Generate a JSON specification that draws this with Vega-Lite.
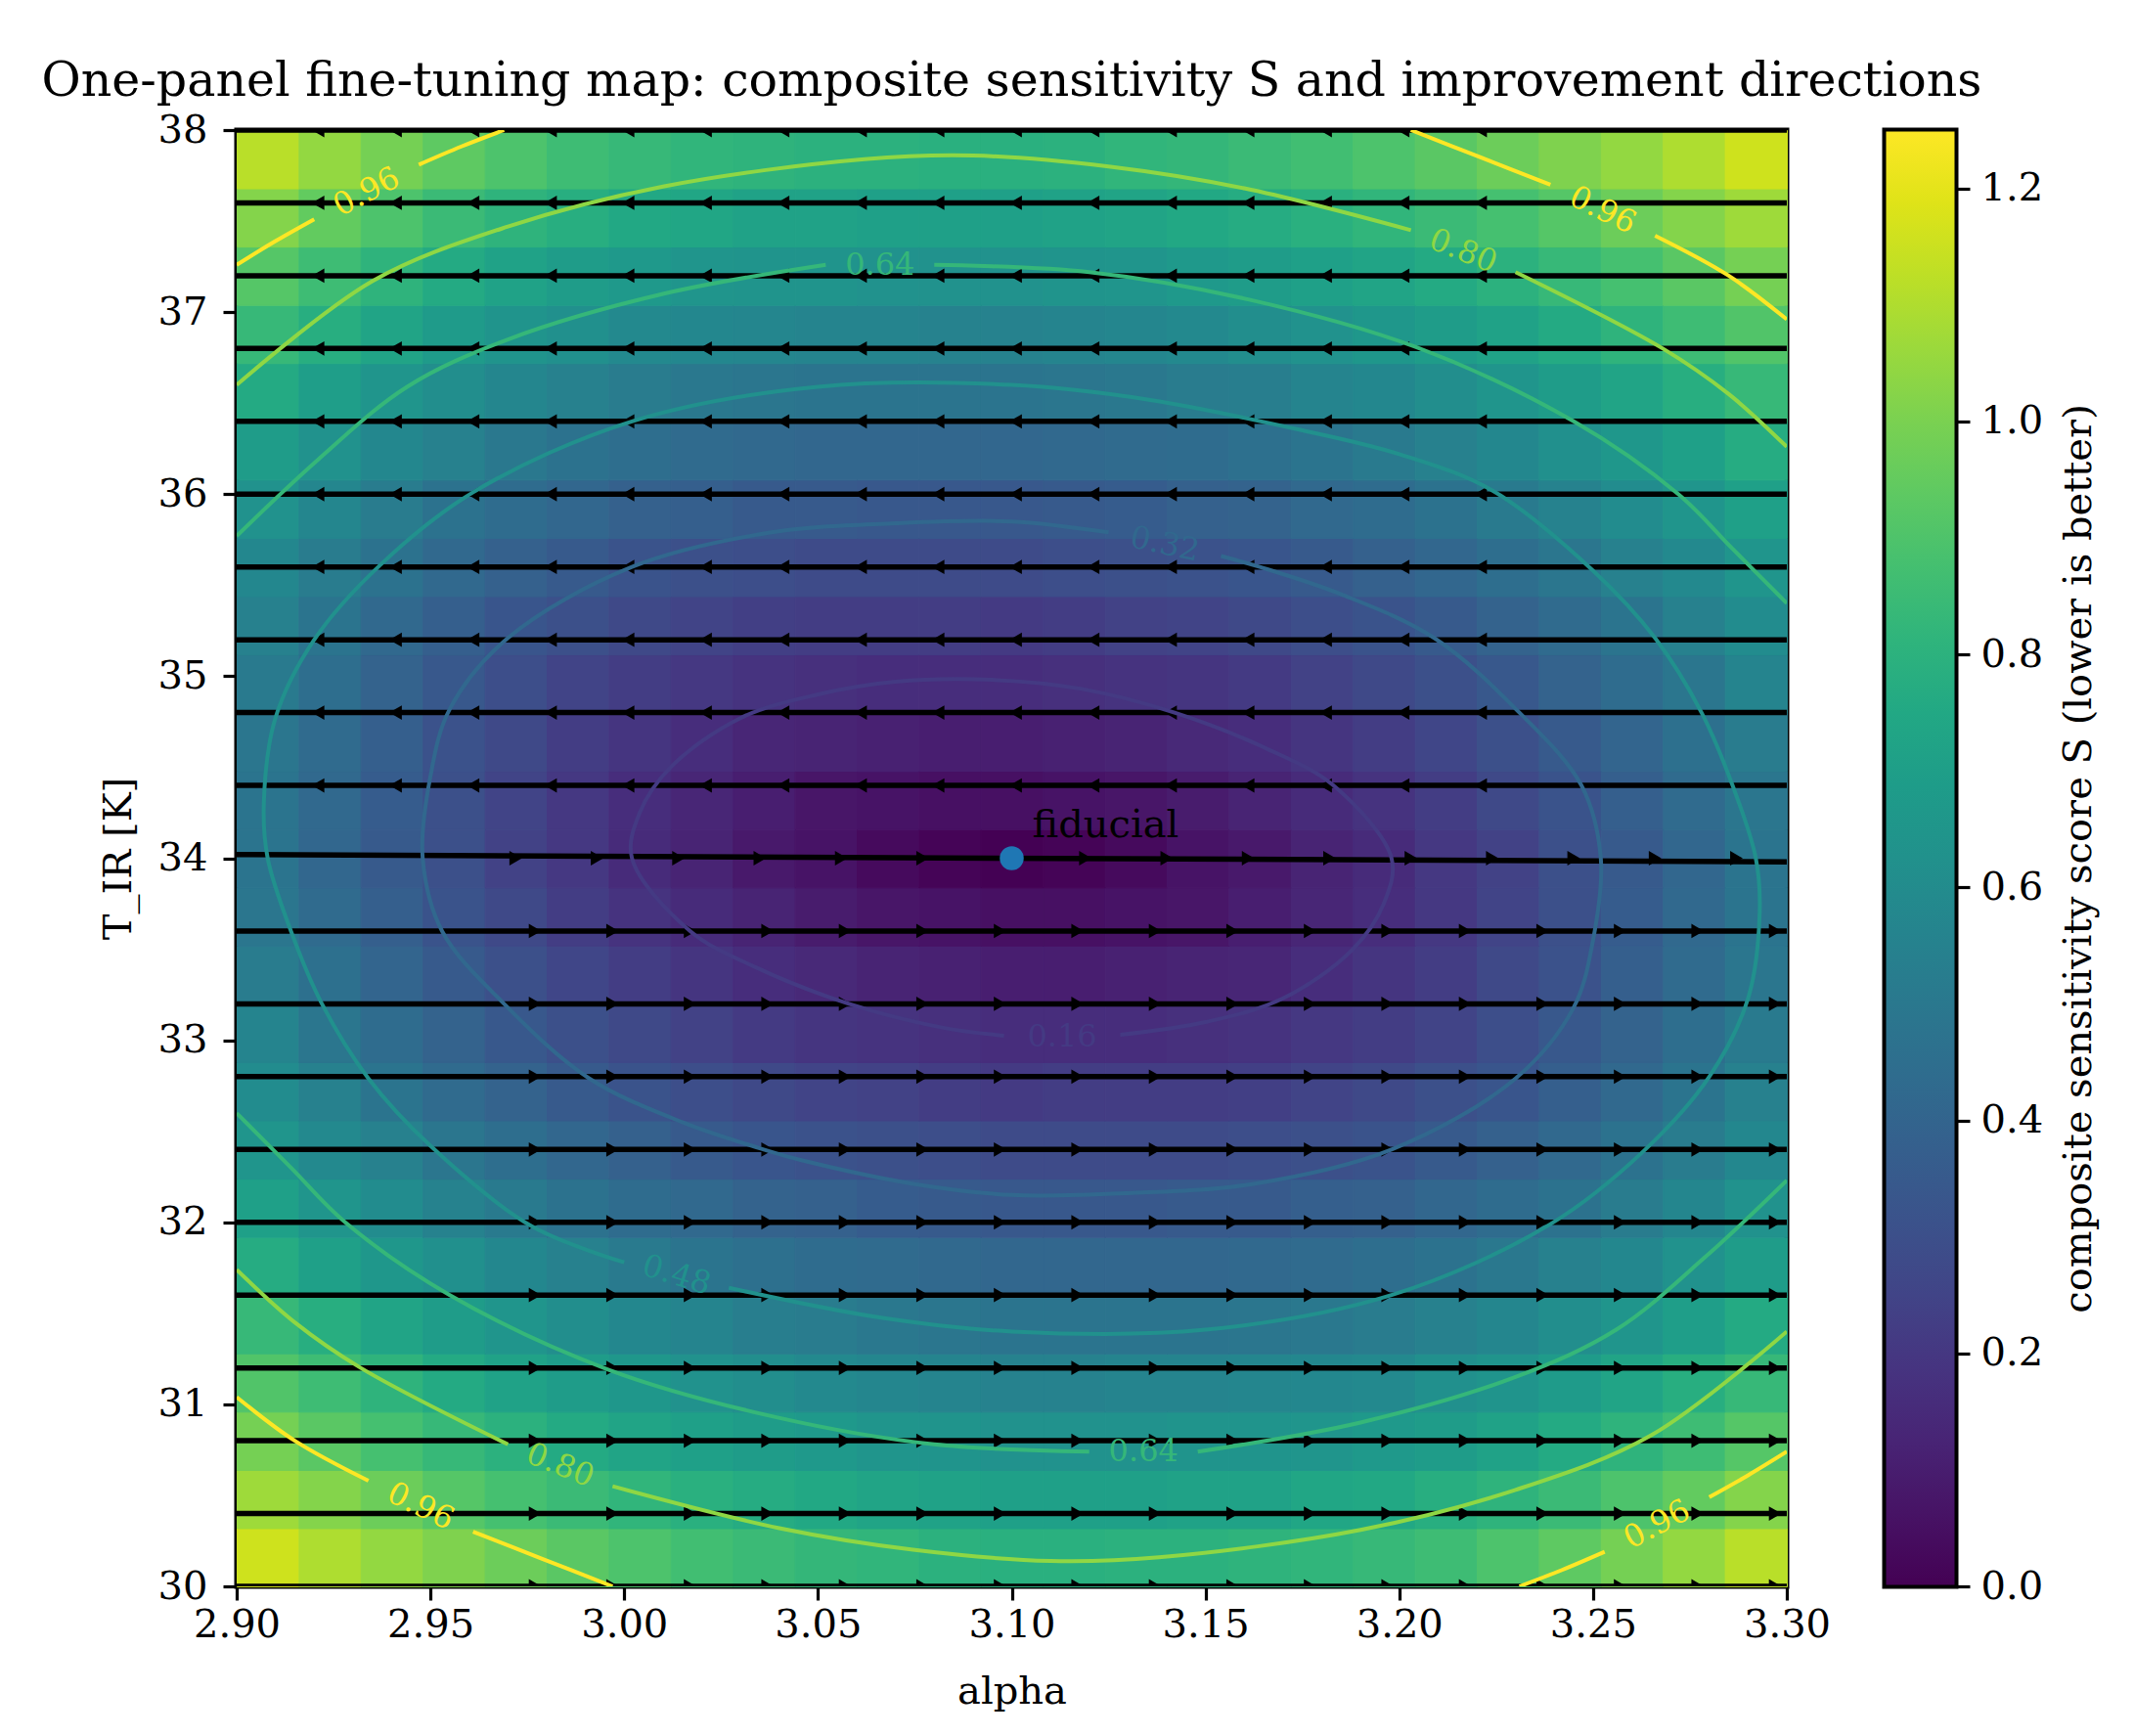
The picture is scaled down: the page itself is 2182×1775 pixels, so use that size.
{
"$schema":"https://vega.github.io/schema/vega-lite/v6.json",
"background":"white",
"padding":{"left":40,"top":56,"right":5,"bottom":5},
"spacing":100,
"bounds":"flush",
"datasets":{
"arrows":[
{"a":2.921,"t":34.4},{"a":2.941,"t":34.4},{"a":2.961,"t":34.4},{"a":2.981,"t":34.4},{"a":3.001,"t":34.4},{"a":3.021,"t":34.4},{"a":3.041,"t":34.4},{"a":3.061,"t":34.4},{"a":3.081,"t":34.4},{"a":3.101,"t":34.4},{"a":3.121,"t":34.4},{"a":3.141,"t":34.4},{"a":3.161,"t":34.4},{"a":3.181,"t":34.4},{"a":3.201,"t":34.4},{"a":3.221,"t":34.4},
{"a":2.921,"t":34.8},{"a":2.941,"t":34.8},{"a":2.961,"t":34.8},{"a":2.981,"t":34.8},{"a":3.001,"t":34.8},{"a":3.021,"t":34.8},{"a":3.041,"t":34.8},{"a":3.061,"t":34.8},{"a":3.081,"t":34.8},{"a":3.101,"t":34.8},{"a":3.121,"t":34.8},{"a":3.141,"t":34.8},{"a":3.161,"t":34.8},{"a":3.181,"t":34.8},{"a":3.201,"t":34.8},{"a":3.221,"t":34.8},
{"a":2.921,"t":35.2},{"a":2.941,"t":35.2},{"a":2.961,"t":35.2},{"a":2.981,"t":35.2},{"a":3.001,"t":35.2},{"a":3.021,"t":35.2},{"a":3.041,"t":35.2},{"a":3.061,"t":35.2},{"a":3.081,"t":35.2},{"a":3.101,"t":35.2},{"a":3.121,"t":35.2},{"a":3.141,"t":35.2},{"a":3.161,"t":35.2},{"a":3.181,"t":35.2},{"a":3.201,"t":35.2},{"a":3.221,"t":35.2},
{"a":2.921,"t":35.6},{"a":2.941,"t":35.6},{"a":2.961,"t":35.6},{"a":2.981,"t":35.6},{"a":3.001,"t":35.6},{"a":3.021,"t":35.6},{"a":3.041,"t":35.6},{"a":3.061,"t":35.6},{"a":3.081,"t":35.6},{"a":3.101,"t":35.6},{"a":3.121,"t":35.6},{"a":3.141,"t":35.6},{"a":3.161,"t":35.6},{"a":3.181,"t":35.6},{"a":3.201,"t":35.6},{"a":3.221,"t":35.6},
{"a":2.921,"t":36},{"a":2.941,"t":36},{"a":2.961,"t":36},{"a":2.981,"t":36},{"a":3.001,"t":36},{"a":3.021,"t":36},{"a":3.041,"t":36},{"a":3.061,"t":36},{"a":3.081,"t":36},{"a":3.101,"t":36},{"a":3.121,"t":36},{"a":3.141,"t":36},{"a":3.161,"t":36},{"a":3.181,"t":36},{"a":3.201,"t":36},{"a":3.221,"t":36},
{"a":2.921,"t":36.4},{"a":2.941,"t":36.4},{"a":2.961,"t":36.4},{"a":2.981,"t":36.4},{"a":3.001,"t":36.4},{"a":3.021,"t":36.4},{"a":3.041,"t":36.4},{"a":3.061,"t":36.4},{"a":3.081,"t":36.4},{"a":3.101,"t":36.4},{"a":3.121,"t":36.4},{"a":3.141,"t":36.4},{"a":3.161,"t":36.4},{"a":3.181,"t":36.4},{"a":3.201,"t":36.4},{"a":3.221,"t":36.4},
{"a":2.921,"t":36.8},{"a":2.941,"t":36.8},{"a":2.961,"t":36.8},{"a":2.981,"t":36.8},{"a":3.001,"t":36.8},{"a":3.021,"t":36.8},{"a":3.041,"t":36.8},{"a":3.061,"t":36.8},{"a":3.081,"t":36.8},{"a":3.101,"t":36.8},{"a":3.121,"t":36.8},{"a":3.141,"t":36.8},{"a":3.161,"t":36.8},{"a":3.181,"t":36.8},{"a":3.201,"t":36.8},{"a":3.221,"t":36.8},
{"a":2.921,"t":37.2},{"a":2.941,"t":37.2},{"a":2.961,"t":37.2},{"a":2.981,"t":37.2},{"a":3.001,"t":37.2},{"a":3.021,"t":37.2},{"a":3.041,"t":37.2},{"a":3.061,"t":37.2},{"a":3.081,"t":37.2},{"a":3.101,"t":37.2},{"a":3.121,"t":37.2},{"a":3.141,"t":37.2},{"a":3.161,"t":37.2},{"a":3.181,"t":37.2},{"a":3.201,"t":37.2},{"a":3.221,"t":37.2},
{"a":2.921,"t":37.6},{"a":2.941,"t":37.6},{"a":2.961,"t":37.6},{"a":2.981,"t":37.6},{"a":3.001,"t":37.6},{"a":3.021,"t":37.6},{"a":3.041,"t":37.6},{"a":3.061,"t":37.6},{"a":3.081,"t":37.6},{"a":3.101,"t":37.6},{"a":3.121,"t":37.6},{"a":3.141,"t":37.6},{"a":3.161,"t":37.6},{"a":3.181,"t":37.6},{"a":3.201,"t":37.6},{"a":3.221,"t":37.6},
{"a":2.921,"t":38},{"a":2.941,"t":38},{"a":2.961,"t":38},{"a":2.981,"t":38},{"a":3.001,"t":38},{"a":3.021,"t":38},{"a":3.041,"t":38},{"a":3.061,"t":38},{"a":3.081,"t":38},{"a":3.101,"t":38},{"a":3.121,"t":38},{"a":3.141,"t":38},{"a":3.161,"t":38},{"a":3.181,"t":38},{"a":3.201,"t":38},{"a":3.221,"t":38},
{"a":2.972,"t":34},{"a":2.993,"t":34},{"a":3.014,"t":34},{"a":3.035,"t":34},{"a":3.056,"t":34},{"a":3.077,"t":34},{"a":3.119,"t":34},{"a":3.14,"t":34},{"a":3.161,"t":34},{"a":3.182,"t":34},{"a":3.203,"t":34},{"a":3.224,"t":34},{"a":3.245,"t":34},{"a":3.266,"t":34},{"a":3.287,"t":34},
{"a":2.977,"t":30},{"a":2.997,"t":30},{"a":3.017,"t":30},{"a":3.037,"t":30},{"a":3.057,"t":30},{"a":3.077,"t":30},{"a":3.097,"t":30},{"a":3.117,"t":30},{"a":3.137,"t":30},{"a":3.157,"t":30},{"a":3.177,"t":30},{"a":3.197,"t":30},{"a":3.217,"t":30},{"a":3.237,"t":30},{"a":3.257,"t":30},{"a":3.277,"t":30},{"a":3.297,"t":30},
{"a":2.977,"t":30.4},{"a":2.997,"t":30.4},{"a":3.017,"t":30.4},{"a":3.037,"t":30.4},{"a":3.057,"t":30.4},{"a":3.077,"t":30.4},{"a":3.097,"t":30.4},{"a":3.117,"t":30.4},{"a":3.137,"t":30.4},{"a":3.157,"t":30.4},{"a":3.177,"t":30.4},{"a":3.197,"t":30.4},{"a":3.217,"t":30.4},{"a":3.237,"t":30.4},{"a":3.257,"t":30.4},{"a":3.277,"t":30.4},{"a":3.297,"t":30.4},
{"a":2.977,"t":30.8},{"a":2.997,"t":30.8},{"a":3.017,"t":30.8},{"a":3.037,"t":30.8},{"a":3.057,"t":30.8},{"a":3.077,"t":30.8},{"a":3.097,"t":30.8},{"a":3.117,"t":30.8},{"a":3.137,"t":30.8},{"a":3.157,"t":30.8},{"a":3.177,"t":30.8},{"a":3.197,"t":30.8},{"a":3.217,"t":30.8},{"a":3.237,"t":30.8},{"a":3.257,"t":30.8},{"a":3.277,"t":30.8},{"a":3.297,"t":30.8},
{"a":2.977,"t":31.2},{"a":2.997,"t":31.2},{"a":3.017,"t":31.2},{"a":3.037,"t":31.2},{"a":3.057,"t":31.2},{"a":3.077,"t":31.2},{"a":3.097,"t":31.2},{"a":3.117,"t":31.2},{"a":3.137,"t":31.2},{"a":3.157,"t":31.2},{"a":3.177,"t":31.2},{"a":3.197,"t":31.2},{"a":3.217,"t":31.2},{"a":3.237,"t":31.2},{"a":3.257,"t":31.2},{"a":3.277,"t":31.2},{"a":3.297,"t":31.2},
{"a":2.977,"t":31.6},{"a":2.997,"t":31.6},{"a":3.017,"t":31.6},{"a":3.037,"t":31.6},{"a":3.057,"t":31.6},{"a":3.077,"t":31.6},{"a":3.097,"t":31.6},{"a":3.117,"t":31.6},{"a":3.137,"t":31.6},{"a":3.157,"t":31.6},{"a":3.177,"t":31.6},{"a":3.197,"t":31.6},{"a":3.217,"t":31.6},{"a":3.237,"t":31.6},{"a":3.257,"t":31.6},{"a":3.277,"t":31.6},{"a":3.297,"t":31.6},
{"a":2.977,"t":32},{"a":2.997,"t":32},{"a":3.017,"t":32},{"a":3.037,"t":32},{"a":3.057,"t":32},{"a":3.077,"t":32},{"a":3.097,"t":32},{"a":3.117,"t":32},{"a":3.137,"t":32},{"a":3.157,"t":32},{"a":3.177,"t":32},{"a":3.197,"t":32},{"a":3.217,"t":32},{"a":3.237,"t":32},{"a":3.257,"t":32},{"a":3.277,"t":32},{"a":3.297,"t":32},
{"a":2.977,"t":32.4},{"a":2.997,"t":32.4},{"a":3.017,"t":32.4},{"a":3.037,"t":32.4},{"a":3.057,"t":32.4},{"a":3.077,"t":32.4},{"a":3.097,"t":32.4},{"a":3.117,"t":32.4},{"a":3.137,"t":32.4},{"a":3.157,"t":32.4},{"a":3.177,"t":32.4},{"a":3.197,"t":32.4},{"a":3.217,"t":32.4},{"a":3.237,"t":32.4},{"a":3.257,"t":32.4},{"a":3.277,"t":32.4},{"a":3.297,"t":32.4},
{"a":2.977,"t":32.8},{"a":2.997,"t":32.8},{"a":3.017,"t":32.8},{"a":3.037,"t":32.8},{"a":3.057,"t":32.8},{"a":3.077,"t":32.8},{"a":3.097,"t":32.8},{"a":3.117,"t":32.8},{"a":3.137,"t":32.8},{"a":3.157,"t":32.8},{"a":3.177,"t":32.8},{"a":3.197,"t":32.8},{"a":3.217,"t":32.8},{"a":3.237,"t":32.8},{"a":3.257,"t":32.8},{"a":3.277,"t":32.8},{"a":3.297,"t":32.8},
{"a":2.977,"t":33.2},{"a":2.997,"t":33.2},{"a":3.017,"t":33.2},{"a":3.037,"t":33.2},{"a":3.057,"t":33.2},{"a":3.077,"t":33.2},{"a":3.097,"t":33.2},{"a":3.117,"t":33.2},{"a":3.137,"t":33.2},{"a":3.157,"t":33.2},{"a":3.177,"t":33.2},{"a":3.197,"t":33.2},{"a":3.217,"t":33.2},{"a":3.237,"t":33.2},{"a":3.257,"t":33.2},{"a":3.277,"t":33.2},{"a":3.297,"t":33.2},
{"a":2.977,"t":33.6},{"a":2.997,"t":33.6},{"a":3.017,"t":33.6},{"a":3.037,"t":33.6},{"a":3.057,"t":33.6},{"a":3.077,"t":33.6},{"a":3.097,"t":33.6},{"a":3.117,"t":33.6},{"a":3.137,"t":33.6},{"a":3.157,"t":33.6},{"a":3.177,"t":33.6},{"a":3.197,"t":33.6},{"a":3.217,"t":33.6},{"a":3.237,"t":33.6},{"a":3.257,"t":33.6},{"a":3.277,"t":33.6},{"a":3.297,"t":33.6}
],
"labels":[
{"lev":0.16,"pos":"B","a":3.113,"t":33.02,"txt":"0.16"},
{"lev":0.32,"pos":"T","a":3.1395,"t":35.725,"txt":"0.32"},
{"lev":0.48,"pos":"B","a":3.0135,"t":31.71,"txt":"0.48"},
{"lev":0.64,"pos":"T","a":3.066,"t":37.26,"txt":"0.64"},
{"lev":0.64,"pos":"B","a":3.134,"t":30.74,"txt":"0.64"},
{"lev":0.8,"pos":"TR","a":3.2165,"t":37.335,"txt":"0.80"},
{"lev":0.8,"pos":"BL","a":2.9835,"t":30.665,"txt":"0.80"},
{"lev":0.96,"pos":"TL","a":2.9335,"t":37.66,"txt":"0.96"},
{"lev":0.96,"pos":"BR","a":3.2665,"t":30.34,"txt":"0.96"},
{"lev":0.96,"pos":"TR","a":3.2525,"t":37.56,"txt":"0.96"},
{"lev":0.96,"pos":"BL","a":2.9475,"t":30.44,"txt":"0.96"}
],
"fid":[{"a":3.1,"t":34,"name":"fiducial"}]
},
"hconcat":[
{
"width":1585,"height":1489,
"title":{"text":"One-panel fine-tuning map: composite sensitivity S and improvement directions","anchor":"middle","offset":5,"fontSize":49,"font":"DejaVu Serif","fontWeight":"normal","color":"black"},
"resolve":{"scale":{"color":"independent"}},
"layer":[
{
"data":{"values":[
{"a":2.9,"t":30,"s":1.16},{"a":2.916,"t":30,"s":1.1},{"a":2.932,"t":30,"s":1.05},{"a":2.948,"t":30,"s":1.01},{"a":2.964,"t":30,"s":0.97},{"a":2.98,"t":30,"s":0.93},{"a":2.996,"t":30,"s":0.9},{"a":3.012,"t":30,"s":0.87},{"a":3.028,"t":30,"s":0.85},{"a":3.044,"t":30,"s":0.83},{"a":3.06,"t":30,"s":0.82},{"a":3.076,"t":30,"s":0.8},{"a":3.092,"t":30,"s":0.79},{"a":3.108,"t":30,"s":0.79},{"a":3.124,"t":30,"s":0.8},{"a":3.14,"t":30,"s":0.8},{"a":3.156,"t":30,"s":0.81},{"a":3.172,"t":30,"s":0.82},{"a":3.188,"t":30,"s":0.84},{"a":3.204,"t":30,"s":0.86},{"a":3.22,"t":30,"s":0.9},{"a":3.236,"t":30,"s":0.94},{"a":3.252,"t":30,"s":0.99},{"a":3.268,"t":30,"s":1.05},{"a":3.284,"t":30,"s":1.12},
{"a":2.9,"t":30.32,"s":1.07},{"a":2.916,"t":30.32,"s":1.02},{"a":2.932,"t":30.32,"s":0.97},{"a":2.948,"t":30.32,"s":0.92},{"a":2.964,"t":30.32,"s":0.88},{"a":2.98,"t":30.32,"s":0.85},{"a":2.996,"t":30.32,"s":0.82},{"a":3.012,"t":30.32,"s":0.79},{"a":3.028,"t":30.32,"s":0.77},{"a":3.044,"t":30.32,"s":0.75},{"a":3.06,"t":30.32,"s":0.73},{"a":3.076,"t":30.32,"s":0.72},{"a":3.092,"t":30.32,"s":0.71},{"a":3.108,"t":30.32,"s":0.71},{"a":3.124,"t":30.32,"s":0.71},{"a":3.14,"t":30.32,"s":0.72},{"a":3.156,"t":30.32,"s":0.72},{"a":3.172,"t":30.32,"s":0.74},{"a":3.188,"t":30.32,"s":0.75},{"a":3.204,"t":30.32,"s":0.78},{"a":3.22,"t":30.32,"s":0.81},{"a":3.236,"t":30.32,"s":0.85},{"a":3.252,"t":30.32,"s":0.9},{"a":3.268,"t":30.32,"s":0.95},{"a":3.284,"t":30.32,"s":1.02},
{"a":2.9,"t":30.64,"s":0.99},{"a":2.916,"t":30.64,"s":0.93},{"a":2.932,"t":30.64,"s":0.88},{"a":2.948,"t":30.64,"s":0.84},{"a":2.964,"t":30.64,"s":0.8},{"a":2.98,"t":30.64,"s":0.76},{"a":2.996,"t":30.64,"s":0.73},{"a":3.012,"t":30.64,"s":0.71},{"a":3.028,"t":30.64,"s":0.69},{"a":3.044,"t":30.64,"s":0.67},{"a":3.06,"t":30.64,"s":0.65},{"a":3.076,"t":30.64,"s":0.64},{"a":3.092,"t":30.64,"s":0.63},{"a":3.108,"t":30.64,"s":0.63},{"a":3.124,"t":30.64,"s":0.63},{"a":3.14,"t":30.64,"s":0.64},{"a":3.156,"t":30.64,"s":0.64},{"a":3.172,"t":30.64,"s":0.65},{"a":3.188,"t":30.64,"s":0.67},{"a":3.204,"t":30.64,"s":0.69},{"a":3.22,"t":30.64,"s":0.72},{"a":3.236,"t":30.64,"s":0.76},{"a":3.252,"t":30.64,"s":0.81},{"a":3.268,"t":30.64,"s":0.86},{"a":3.284,"t":30.64,"s":0.92},
{"a":2.9,"t":30.96,"s":0.91},{"a":2.916,"t":30.96,"s":0.86},{"a":2.932,"t":30.96,"s":0.81},{"a":2.948,"t":30.96,"s":0.76},{"a":2.964,"t":30.96,"s":0.72},{"a":2.98,"t":30.96,"s":0.69},{"a":2.996,"t":30.96,"s":0.66},{"a":3.012,"t":30.96,"s":0.63},{"a":3.028,"t":30.96,"s":0.61},{"a":3.044,"t":30.96,"s":0.59},{"a":3.06,"t":30.96,"s":0.57},{"a":3.076,"t":30.96,"s":0.56},{"a":3.092,"t":30.96,"s":0.55},{"a":3.108,"t":30.96,"s":0.55},{"a":3.124,"t":30.96,"s":0.56},{"a":3.14,"t":30.96,"s":0.56},{"a":3.156,"t":30.96,"s":0.57},{"a":3.172,"t":30.96,"s":0.58},{"a":3.188,"t":30.96,"s":0.59},{"a":3.204,"t":30.96,"s":0.62},{"a":3.22,"t":30.96,"s":0.64},{"a":3.236,"t":30.96,"s":0.68},{"a":3.252,"t":30.96,"s":0.73},{"a":3.268,"t":30.96,"s":0.78},{"a":3.284,"t":30.96,"s":0.84},
{"a":2.9,"t":31.28,"s":0.84},{"a":2.916,"t":31.28,"s":0.78},{"a":2.932,"t":31.28,"s":0.73},{"a":2.948,"t":31.28,"s":0.69},{"a":2.964,"t":31.28,"s":0.65},{"a":2.98,"t":31.28,"s":0.61},{"a":2.996,"t":31.28,"s":0.58},{"a":3.012,"t":31.28,"s":0.56},{"a":3.028,"t":31.28,"s":0.53},{"a":3.044,"t":31.28,"s":0.52},{"a":3.06,"t":31.28,"s":0.5},{"a":3.076,"t":31.28,"s":0.49},{"a":3.092,"t":31.28,"s":0.48},{"a":3.108,"t":31.28,"s":0.48},{"a":3.124,"t":31.28,"s":0.48},{"a":3.14,"t":31.28,"s":0.48},{"a":3.156,"t":31.28,"s":0.49},{"a":3.172,"t":31.28,"s":0.5},{"a":3.188,"t":31.28,"s":0.52},{"a":3.204,"t":31.28,"s":0.54},{"a":3.22,"t":31.28,"s":0.57},{"a":3.236,"t":31.28,"s":0.61},{"a":3.252,"t":31.28,"s":0.65},{"a":3.268,"t":31.28,"s":0.7},{"a":3.284,"t":31.28,"s":0.76},
{"a":2.9,"t":31.6,"s":0.77},{"a":2.916,"t":31.6,"s":0.71},{"a":2.932,"t":31.6,"s":0.66},{"a":2.948,"t":31.6,"s":0.62},{"a":2.964,"t":31.6,"s":0.58},{"a":2.98,"t":31.6,"s":0.54},{"a":2.996,"t":31.6,"s":0.51},{"a":3.012,"t":31.6,"s":0.48},{"a":3.028,"t":31.6,"s":0.46},{"a":3.044,"t":31.6,"s":0.44},{"a":3.06,"t":31.6,"s":0.43},{"a":3.076,"t":31.6,"s":0.42},{"a":3.092,"t":31.6,"s":0.41},{"a":3.108,"t":31.6,"s":0.41},{"a":3.124,"t":31.6,"s":0.41},{"a":3.14,"t":31.6,"s":0.41},{"a":3.156,"t":31.6,"s":0.42},{"a":3.172,"t":31.6,"s":0.43},{"a":3.188,"t":31.6,"s":0.45},{"a":3.204,"t":31.6,"s":0.47},{"a":3.22,"t":31.6,"s":0.5},{"a":3.236,"t":31.6,"s":0.54},{"a":3.252,"t":31.6,"s":0.58},{"a":3.268,"t":31.6,"s":0.63},{"a":3.284,"t":31.6,"s":0.69},
{"a":2.9,"t":31.92,"s":0.71},{"a":2.916,"t":31.92,"s":0.65},{"a":2.932,"t":31.92,"s":0.6},{"a":2.948,"t":31.92,"s":0.55},{"a":2.964,"t":31.92,"s":0.51},{"a":2.98,"t":31.92,"s":0.47},{"a":2.996,"t":31.92,"s":0.44},{"a":3.012,"t":31.92,"s":0.42},{"a":3.028,"t":31.92,"s":0.39},{"a":3.044,"t":31.92,"s":0.38},{"a":3.06,"t":31.92,"s":0.36},{"a":3.076,"t":31.92,"s":0.35},{"a":3.092,"t":31.92,"s":0.34},{"a":3.108,"t":31.92,"s":0.34},{"a":3.124,"t":31.92,"s":0.34},{"a":3.14,"t":31.92,"s":0.35},{"a":3.156,"t":31.92,"s":0.35},{"a":3.172,"t":31.92,"s":0.37},{"a":3.188,"t":31.92,"s":0.38},{"a":3.204,"t":31.92,"s":0.41},{"a":3.22,"t":31.92,"s":0.44},{"a":3.236,"t":31.92,"s":0.47},{"a":3.252,"t":31.92,"s":0.52},{"a":3.268,"t":31.92,"s":0.57},{"a":3.284,"t":31.92,"s":0.63},
{"a":2.9,"t":32.24,"s":0.65},{"a":2.916,"t":32.24,"s":0.59},{"a":2.932,"t":32.24,"s":0.54},{"a":2.948,"t":32.24,"s":0.49},{"a":2.964,"t":32.24,"s":0.45},{"a":2.98,"t":32.24,"s":0.41},{"a":2.996,"t":32.24,"s":0.38},{"a":3.012,"t":32.24,"s":0.35},{"a":3.028,"t":32.24,"s":0.33},{"a":3.044,"t":32.24,"s":0.31},{"a":3.06,"t":32.24,"s":0.3},{"a":3.076,"t":32.24,"s":0.29},{"a":3.092,"t":32.24,"s":0.28},{"a":3.108,"t":32.24,"s":0.28},{"a":3.124,"t":32.24,"s":0.28},{"a":3.14,"t":32.24,"s":0.28},{"a":3.156,"t":32.24,"s":0.29},{"a":3.172,"t":32.24,"s":0.3},{"a":3.188,"t":32.24,"s":0.32},{"a":3.204,"t":32.24,"s":0.35},{"a":3.22,"t":32.24,"s":0.38},{"a":3.236,"t":32.24,"s":0.42},{"a":3.252,"t":32.24,"s":0.47},{"a":3.268,"t":32.24,"s":0.52},{"a":3.284,"t":32.24,"s":0.58},
{"a":2.9,"t":32.56,"s":0.6},{"a":2.916,"t":32.56,"s":0.54},{"a":2.932,"t":32.56,"s":0.48},{"a":2.948,"t":32.56,"s":0.43},{"a":2.964,"t":32.56,"s":0.39},{"a":2.98,"t":32.56,"s":0.35},{"a":2.996,"t":32.56,"s":0.32},{"a":3.012,"t":32.56,"s":0.29},{"a":3.028,"t":32.56,"s":0.27},{"a":3.044,"t":32.56,"s":0.25},{"a":3.06,"t":32.56,"s":0.24},{"a":3.076,"t":32.56,"s":0.22},{"a":3.092,"t":32.56,"s":0.21},{"a":3.108,"t":32.56,"s":0.22},{"a":3.124,"t":32.56,"s":0.22},{"a":3.14,"t":32.56,"s":0.22},{"a":3.156,"t":32.56,"s":0.23},{"a":3.172,"t":32.56,"s":0.25},{"a":3.188,"t":32.56,"s":0.27},{"a":3.204,"t":32.56,"s":0.3},{"a":3.22,"t":32.56,"s":0.33},{"a":3.236,"t":32.56,"s":0.37},{"a":3.252,"t":32.56,"s":0.42},{"a":3.268,"t":32.56,"s":0.48},{"a":3.284,"t":32.56,"s":0.54},
{"a":2.9,"t":32.88,"s":0.56},{"a":2.916,"t":32.88,"s":0.49},{"a":2.932,"t":32.88,"s":0.44},{"a":2.948,"t":32.88,"s":0.39},{"a":2.964,"t":32.88,"s":0.34},{"a":2.98,"t":32.88,"s":0.3},{"a":2.996,"t":32.88,"s":0.27},{"a":3.012,"t":32.88,"s":0.24},{"a":3.028,"t":32.88,"s":0.21},{"a":3.044,"t":32.88,"s":0.19},{"a":3.06,"t":32.88,"s":0.18},{"a":3.076,"t":32.88,"s":0.17},{"a":3.092,"t":32.88,"s":0.16},{"a":3.108,"t":32.88,"s":0.16},{"a":3.124,"t":32.88,"s":0.16},{"a":3.14,"t":32.88,"s":0.17},{"a":3.156,"t":32.88,"s":0.18},{"a":3.172,"t":32.88,"s":0.2},{"a":3.188,"t":32.88,"s":0.22},{"a":3.204,"t":32.88,"s":0.25},{"a":3.22,"t":32.88,"s":0.29},{"a":3.236,"t":32.88,"s":0.34},{"a":3.252,"t":32.88,"s":0.39},{"a":3.268,"t":32.88,"s":0.45},{"a":3.284,"t":32.88,"s":0.51},
{"a":2.9,"t":33.2,"s":0.52},{"a":2.916,"t":33.2,"s":0.46},{"a":2.932,"t":33.2,"s":0.4},{"a":2.948,"t":33.2,"s":0.35},{"a":2.964,"t":33.2,"s":0.3},{"a":2.98,"t":33.2,"s":0.26},{"a":2.996,"t":33.2,"s":0.22},{"a":3.012,"t":33.2,"s":0.19},{"a":3.028,"t":33.2,"s":0.16},{"a":3.044,"t":33.2,"s":0.14},{"a":3.06,"t":33.2,"s":0.12},{"a":3.076,"t":33.2,"s":0.11},{"a":3.092,"t":33.2,"s":0.1},{"a":3.108,"t":33.2,"s":0.1},{"a":3.124,"t":33.2,"s":0.11},{"a":3.14,"t":33.2,"s":0.12},{"a":3.156,"t":33.2,"s":0.13},{"a":3.172,"t":33.2,"s":0.16},{"a":3.188,"t":33.2,"s":0.19},{"a":3.204,"t":33.2,"s":0.22},{"a":3.22,"t":33.2,"s":0.27},{"a":3.236,"t":33.2,"s":0.31},{"a":3.252,"t":33.2,"s":0.37},{"a":3.268,"t":33.2,"s":0.43},{"a":3.284,"t":33.2,"s":0.49},
{"a":2.9,"t":33.52,"s":0.49},{"a":2.916,"t":33.52,"s":0.43},{"a":2.932,"t":33.52,"s":0.37},{"a":2.948,"t":33.52,"s":0.32},{"a":2.964,"t":33.52,"s":0.27},{"a":2.98,"t":33.52,"s":0.22},{"a":2.996,"t":33.52,"s":0.18},{"a":3.012,"t":33.52,"s":0.15},{"a":3.028,"t":33.52,"s":0.12},{"a":3.044,"t":33.52,"s":0.09},{"a":3.06,"t":33.52,"s":0.07},{"a":3.076,"t":33.52,"s":0.06},{"a":3.092,"t":33.52,"s":0.05},{"a":3.108,"t":33.52,"s":0.05},{"a":3.124,"t":33.52,"s":0.06},{"a":3.14,"t":33.52,"s":0.07},{"a":3.156,"t":33.52,"s":0.1},{"a":3.172,"t":33.52,"s":0.13},{"a":3.188,"t":33.52,"s":0.16},{"a":3.204,"t":33.52,"s":0.2},{"a":3.22,"t":33.52,"s":0.25},{"a":3.236,"t":33.52,"s":0.3},{"a":3.252,"t":33.52,"s":0.36},{"a":3.268,"t":33.52,"s":0.42},{"a":3.284,"t":33.52,"s":0.48},
{"a":2.9,"t":33.84,"s":0.48},{"a":2.916,"t":33.84,"s":0.41},{"a":2.932,"t":33.84,"s":0.35},{"a":2.948,"t":33.84,"s":0.3},{"a":2.964,"t":33.84,"s":0.24},{"a":2.98,"t":33.84,"s":0.2},{"a":2.996,"t":33.84,"s":0.15},{"a":3.012,"t":33.84,"s":0.12},{"a":3.028,"t":33.84,"s":0.08},{"a":3.044,"t":33.84,"s":0.06},{"a":3.06,"t":33.84,"s":0.03},{"a":3.076,"t":33.84,"s":0.01},{"a":3.092,"t":33.84,"s":0},{"a":3.108,"t":33.84,"s":0.01},{"a":3.124,"t":33.84,"s":0.03},{"a":3.14,"t":33.84,"s":0.06},{"a":3.156,"t":33.84,"s":0.08},{"a":3.172,"t":33.84,"s":0.12},{"a":3.188,"t":33.84,"s":0.15},{"a":3.204,"t":33.84,"s":0.2},{"a":3.22,"t":33.84,"s":0.24},{"a":3.236,"t":33.84,"s":0.3},{"a":3.252,"t":33.84,"s":0.35},{"a":3.268,"t":33.84,"s":0.41},{"a":3.284,"t":33.84,"s":0.48},
{"a":2.9,"t":34.16,"s":0.48},{"a":2.916,"t":34.16,"s":0.42},{"a":2.932,"t":34.16,"s":0.36},{"a":2.948,"t":34.16,"s":0.3},{"a":2.964,"t":34.16,"s":0.25},{"a":2.98,"t":34.16,"s":0.2},{"a":2.996,"t":34.16,"s":0.16},{"a":3.012,"t":34.16,"s":0.13},{"a":3.028,"t":34.16,"s":0.1},{"a":3.044,"t":34.16,"s":0.07},{"a":3.06,"t":34.16,"s":0.06},{"a":3.076,"t":34.16,"s":0.05},{"a":3.092,"t":34.16,"s":0.05},{"a":3.108,"t":34.16,"s":0.06},{"a":3.124,"t":34.16,"s":0.07},{"a":3.14,"t":34.16,"s":0.09},{"a":3.156,"t":34.16,"s":0.12},{"a":3.172,"t":34.16,"s":0.15},{"a":3.188,"t":34.16,"s":0.18},{"a":3.204,"t":34.16,"s":0.22},{"a":3.22,"t":34.16,"s":0.27},{"a":3.236,"t":34.16,"s":0.32},{"a":3.252,"t":34.16,"s":0.37},{"a":3.268,"t":34.16,"s":0.43},{"a":3.284,"t":34.16,"s":0.49},
{"a":2.9,"t":34.48,"s":0.49},{"a":2.916,"t":34.48,"s":0.43},{"a":2.932,"t":34.48,"s":0.37},{"a":2.948,"t":34.48,"s":0.31},{"a":2.964,"t":34.48,"s":0.27},{"a":2.98,"t":34.48,"s":0.22},{"a":2.996,"t":34.48,"s":0.19},{"a":3.012,"t":34.48,"s":0.16},{"a":3.028,"t":34.48,"s":0.13},{"a":3.044,"t":34.48,"s":0.12},{"a":3.06,"t":34.48,"s":0.11},{"a":3.076,"t":34.48,"s":0.1},{"a":3.092,"t":34.48,"s":0.1},{"a":3.108,"t":34.48,"s":0.11},{"a":3.124,"t":34.48,"s":0.12},{"a":3.14,"t":34.48,"s":0.14},{"a":3.156,"t":34.48,"s":0.16},{"a":3.172,"t":34.48,"s":0.19},{"a":3.188,"t":34.48,"s":0.22},{"a":3.204,"t":34.48,"s":0.26},{"a":3.22,"t":34.48,"s":0.3},{"a":3.236,"t":34.48,"s":0.35},{"a":3.252,"t":34.48,"s":0.4},{"a":3.268,"t":34.48,"s":0.46},{"a":3.284,"t":34.48,"s":0.52},
{"a":2.9,"t":34.8,"s":0.51},{"a":2.916,"t":34.8,"s":0.45},{"a":2.932,"t":34.8,"s":0.39},{"a":2.948,"t":34.8,"s":0.34},{"a":2.964,"t":34.8,"s":0.29},{"a":2.98,"t":34.8,"s":0.25},{"a":2.996,"t":34.8,"s":0.22},{"a":3.012,"t":34.8,"s":0.2},{"a":3.028,"t":34.8,"s":0.18},{"a":3.044,"t":34.8,"s":0.17},{"a":3.06,"t":34.8,"s":0.16},{"a":3.076,"t":34.8,"s":0.16},{"a":3.092,"t":34.8,"s":0.16},{"a":3.108,"t":34.8,"s":0.17},{"a":3.124,"t":34.8,"s":0.18},{"a":3.14,"t":34.8,"s":0.19},{"a":3.156,"t":34.8,"s":0.21},{"a":3.172,"t":34.8,"s":0.24},{"a":3.188,"t":34.8,"s":0.27},{"a":3.204,"t":34.8,"s":0.3},{"a":3.22,"t":34.8,"s":0.34},{"a":3.236,"t":34.8,"s":0.39},{"a":3.252,"t":34.8,"s":0.44},{"a":3.268,"t":34.8,"s":0.49},{"a":3.284,"t":34.8,"s":0.56},
{"a":2.9,"t":35.12,"s":0.54},{"a":2.916,"t":35.12,"s":0.48},{"a":2.932,"t":35.12,"s":0.42},{"a":2.948,"t":35.12,"s":0.37},{"a":2.964,"t":35.12,"s":0.33},{"a":2.98,"t":35.12,"s":0.3},{"a":2.996,"t":35.12,"s":0.27},{"a":3.012,"t":35.12,"s":0.25},{"a":3.028,"t":35.12,"s":0.23},{"a":3.044,"t":35.12,"s":0.22},{"a":3.06,"t":35.12,"s":0.22},{"a":3.076,"t":35.12,"s":0.22},{"a":3.092,"t":35.12,"s":0.21},{"a":3.108,"t":35.12,"s":0.22},{"a":3.124,"t":35.12,"s":0.24},{"a":3.14,"t":35.12,"s":0.25},{"a":3.156,"t":35.12,"s":0.27},{"a":3.172,"t":35.12,"s":0.29},{"a":3.188,"t":35.12,"s":0.32},{"a":3.204,"t":35.12,"s":0.35},{"a":3.22,"t":35.12,"s":0.39},{"a":3.236,"t":35.12,"s":0.43},{"a":3.252,"t":35.12,"s":0.48},{"a":3.268,"t":35.12,"s":0.54},{"a":3.284,"t":35.12,"s":0.6},
{"a":2.9,"t":35.44,"s":0.58},{"a":2.916,"t":35.44,"s":0.52},{"a":2.932,"t":35.44,"s":0.47},{"a":2.948,"t":35.44,"s":0.42},{"a":2.964,"t":35.44,"s":0.38},{"a":2.98,"t":35.44,"s":0.35},{"a":2.996,"t":35.44,"s":0.32},{"a":3.012,"t":35.44,"s":0.3},{"a":3.028,"t":35.44,"s":0.29},{"a":3.044,"t":35.44,"s":0.28},{"a":3.06,"t":35.44,"s":0.28},{"a":3.076,"t":35.44,"s":0.28},{"a":3.092,"t":35.44,"s":0.28},{"a":3.108,"t":35.44,"s":0.29},{"a":3.124,"t":35.44,"s":0.3},{"a":3.14,"t":35.44,"s":0.31},{"a":3.156,"t":35.44,"s":0.33},{"a":3.172,"t":35.44,"s":0.35},{"a":3.188,"t":35.44,"s":0.38},{"a":3.204,"t":35.44,"s":0.41},{"a":3.22,"t":35.44,"s":0.45},{"a":3.236,"t":35.44,"s":0.49},{"a":3.252,"t":35.44,"s":0.54},{"a":3.268,"t":35.44,"s":0.59},{"a":3.284,"t":35.44,"s":0.65},
{"a":2.9,"t":35.76,"s":0.63},{"a":2.916,"t":35.76,"s":0.57},{"a":2.932,"t":35.76,"s":0.52},{"a":2.948,"t":35.76,"s":0.47},{"a":2.964,"t":35.76,"s":0.44},{"a":2.98,"t":35.76,"s":0.41},{"a":2.996,"t":35.76,"s":0.38},{"a":3.012,"t":35.76,"s":0.37},{"a":3.028,"t":35.76,"s":0.35},{"a":3.044,"t":35.76,"s":0.35},{"a":3.06,"t":35.76,"s":0.34},{"a":3.076,"t":35.76,"s":0.34},{"a":3.092,"t":35.76,"s":0.34},{"a":3.108,"t":35.76,"s":0.35},{"a":3.124,"t":35.76,"s":0.36},{"a":3.14,"t":35.76,"s":0.38},{"a":3.156,"t":35.76,"s":0.39},{"a":3.172,"t":35.76,"s":0.42},{"a":3.188,"t":35.76,"s":0.44},{"a":3.204,"t":35.76,"s":0.47},{"a":3.22,"t":35.76,"s":0.51},{"a":3.236,"t":35.76,"s":0.55},{"a":3.252,"t":35.76,"s":0.6},{"a":3.268,"t":35.76,"s":0.65},{"a":3.284,"t":35.76,"s":0.71},
{"a":2.9,"t":36.08,"s":0.69},{"a":2.916,"t":36.08,"s":0.63},{"a":2.932,"t":36.08,"s":0.58},{"a":2.948,"t":36.08,"s":0.54},{"a":2.964,"t":36.08,"s":0.5},{"a":2.98,"t":36.08,"s":0.47},{"a":2.996,"t":36.08,"s":0.45},{"a":3.012,"t":36.08,"s":0.43},{"a":3.028,"t":36.08,"s":0.42},{"a":3.044,"t":36.08,"s":0.41},{"a":3.06,"t":36.08,"s":0.41},{"a":3.076,"t":36.08,"s":0.41},{"a":3.092,"t":36.08,"s":0.41},{"a":3.108,"t":36.08,"s":0.42},{"a":3.124,"t":36.08,"s":0.43},{"a":3.14,"t":36.08,"s":0.44},{"a":3.156,"t":36.08,"s":0.46},{"a":3.172,"t":36.08,"s":0.48},{"a":3.188,"t":36.08,"s":0.51},{"a":3.204,"t":36.08,"s":0.54},{"a":3.22,"t":36.08,"s":0.58},{"a":3.236,"t":36.08,"s":0.62},{"a":3.252,"t":36.08,"s":0.66},{"a":3.268,"t":36.08,"s":0.71},{"a":3.284,"t":36.08,"s":0.77},
{"a":2.9,"t":36.4,"s":0.76},{"a":2.916,"t":36.4,"s":0.7},{"a":2.932,"t":36.4,"s":0.65},{"a":2.948,"t":36.4,"s":0.61},{"a":2.964,"t":36.4,"s":0.57},{"a":2.98,"t":36.4,"s":0.54},{"a":2.996,"t":36.4,"s":0.52},{"a":3.012,"t":36.4,"s":0.5},{"a":3.028,"t":36.4,"s":0.49},{"a":3.044,"t":36.4,"s":0.48},{"a":3.06,"t":36.4,"s":0.48},{"a":3.076,"t":36.4,"s":0.48},{"a":3.092,"t":36.4,"s":0.48},{"a":3.108,"t":36.4,"s":0.49},{"a":3.124,"t":36.4,"s":0.5},{"a":3.14,"t":36.4,"s":0.52},{"a":3.156,"t":36.4,"s":0.53},{"a":3.172,"t":36.4,"s":0.56},{"a":3.188,"t":36.4,"s":0.58},{"a":3.204,"t":36.4,"s":0.61},{"a":3.22,"t":36.4,"s":0.65},{"a":3.236,"t":36.4,"s":0.69},{"a":3.252,"t":36.4,"s":0.73},{"a":3.268,"t":36.4,"s":0.78},{"a":3.284,"t":36.4,"s":0.84},
{"a":2.9,"t":36.72,"s":0.84},{"a":2.916,"t":36.72,"s":0.78},{"a":2.932,"t":36.72,"s":0.73},{"a":2.948,"t":36.72,"s":0.68},{"a":2.964,"t":36.72,"s":0.64},{"a":2.98,"t":36.72,"s":0.62},{"a":2.996,"t":36.72,"s":0.59},{"a":3.012,"t":36.72,"s":0.58},{"a":3.028,"t":36.72,"s":0.57},{"a":3.044,"t":36.72,"s":0.56},{"a":3.06,"t":36.72,"s":0.56},{"a":3.076,"t":36.72,"s":0.55},{"a":3.092,"t":36.72,"s":0.55},{"a":3.108,"t":36.72,"s":0.56},{"a":3.124,"t":36.72,"s":0.57},{"a":3.14,"t":36.72,"s":0.59},{"a":3.156,"t":36.72,"s":0.61},{"a":3.172,"t":36.72,"s":0.63},{"a":3.188,"t":36.72,"s":0.66},{"a":3.204,"t":36.72,"s":0.69},{"a":3.22,"t":36.72,"s":0.72},{"a":3.236,"t":36.72,"s":0.76},{"a":3.252,"t":36.72,"s":0.81},{"a":3.268,"t":36.72,"s":0.86},{"a":3.284,"t":36.72,"s":0.91},
{"a":2.9,"t":37.04,"s":0.92},{"a":2.916,"t":37.04,"s":0.86},{"a":2.932,"t":37.04,"s":0.81},{"a":2.948,"t":37.04,"s":0.76},{"a":2.964,"t":37.04,"s":0.72},{"a":2.98,"t":37.04,"s":0.69},{"a":2.996,"t":37.04,"s":0.67},{"a":3.012,"t":37.04,"s":0.65},{"a":3.028,"t":37.04,"s":0.64},{"a":3.044,"t":37.04,"s":0.64},{"a":3.06,"t":37.04,"s":0.63},{"a":3.076,"t":37.04,"s":0.63},{"a":3.092,"t":37.04,"s":0.63},{"a":3.108,"t":37.04,"s":0.64},{"a":3.124,"t":37.04,"s":0.65},{"a":3.14,"t":37.04,"s":0.67},{"a":3.156,"t":37.04,"s":0.69},{"a":3.172,"t":37.04,"s":0.71},{"a":3.188,"t":37.04,"s":0.73},{"a":3.204,"t":37.04,"s":0.76},{"a":3.22,"t":37.04,"s":0.8},{"a":3.236,"t":37.04,"s":0.84},{"a":3.252,"t":37.04,"s":0.88},{"a":3.268,"t":37.04,"s":0.93},{"a":3.284,"t":37.04,"s":0.99},
{"a":2.9,"t":37.36,"s":1.02},{"a":2.916,"t":37.36,"s":0.95},{"a":2.932,"t":37.36,"s":0.9},{"a":2.948,"t":37.36,"s":0.85},{"a":2.964,"t":37.36,"s":0.81},{"a":2.98,"t":37.36,"s":0.78},{"a":2.996,"t":37.36,"s":0.75},{"a":3.012,"t":37.36,"s":0.74},{"a":3.028,"t":37.36,"s":0.72},{"a":3.044,"t":37.36,"s":0.72},{"a":3.06,"t":37.36,"s":0.71},{"a":3.076,"t":37.36,"s":0.71},{"a":3.092,"t":37.36,"s":0.71},{"a":3.108,"t":37.36,"s":0.72},{"a":3.124,"t":37.36,"s":0.73},{"a":3.14,"t":37.36,"s":0.75},{"a":3.156,"t":37.36,"s":0.77},{"a":3.172,"t":37.36,"s":0.79},{"a":3.188,"t":37.36,"s":0.82},{"a":3.204,"t":37.36,"s":0.85},{"a":3.22,"t":37.36,"s":0.88},{"a":3.236,"t":37.36,"s":0.92},{"a":3.252,"t":37.36,"s":0.97},{"a":3.268,"t":37.36,"s":1.02},{"a":3.284,"t":37.36,"s":1.07},
{"a":2.9,"t":37.68,"s":1.12},{"a":2.916,"t":37.68,"s":1.05},{"a":2.932,"t":37.68,"s":0.99},{"a":2.948,"t":37.68,"s":0.94},{"a":2.964,"t":37.68,"s":0.9},{"a":2.98,"t":37.68,"s":0.86},{"a":2.996,"t":37.68,"s":0.84},{"a":3.012,"t":37.68,"s":0.82},{"a":3.028,"t":37.68,"s":0.81},{"a":3.044,"t":37.68,"s":0.8},{"a":3.06,"t":37.68,"s":0.8},{"a":3.076,"t":37.68,"s":0.79},{"a":3.092,"t":37.68,"s":0.79},{"a":3.108,"t":37.68,"s":0.8},{"a":3.124,"t":37.68,"s":0.82},{"a":3.14,"t":37.68,"s":0.83},{"a":3.156,"t":37.68,"s":0.85},{"a":3.172,"t":37.68,"s":0.87},{"a":3.188,"t":37.68,"s":0.9},{"a":3.204,"t":37.68,"s":0.93},{"a":3.22,"t":37.68,"s":0.97},{"a":3.236,"t":37.68,"s":1.01},{"a":3.252,"t":37.68,"s":1.05},{"a":3.268,"t":37.68,"s":1.1},{"a":3.284,"t":37.68,"s":1.16}
]},
"mark":{"type":"rect","strokeWidth":1},
"encoding":{
"x":{"field":"a","type":"quantitative","bin":{"binned":true,"step":0.016},"title":"alpha","scale":{"domain":[2.9,3.3],"nice":false,"zero":false},"axis":{"values":[2.9,2.95,3,3.05,3.1,3.15,3.2,3.25,3.3],"format":".2f","title":"alpha","labelPadding":5,"titlePadding":28}},
"y":{"field":"t","type":"quantitative","bin":{"binned":true,"step":0.32},"title":"T_IR [K]","scale":{"domain":[30,38],"nice":false,"zero":false},"axis":{"values":[30,31,32,33,34,35,36,37,38],"format":"d","title":"T_IR [K]","labelPadding":16,"titlePadding":20}},
"color":{"field":"s","type":"quantitative","scale":{"scheme":"viridis","domain":[0,1.25]},"legend":null},
"stroke":{"field":"s","type":"quantitative","scale":{"scheme":"viridis","domain":[0,1.25]},"legend":null}
}
},
{
"data":{"values":[
{"a0":2.9,"a1":3.3,"t0":30,"t1":30},{"a0":2.9,"a1":3.3,"t0":30.4,"t1":30.4},{"a0":2.9,"a1":3.3,"t0":30.8,"t1":30.8},{"a0":2.9,"a1":3.3,"t0":31.2,"t1":31.2},{"a0":2.9,"a1":3.3,"t0":31.6,"t1":31.6},{"a0":2.9,"a1":3.3,"t0":32,"t1":32},{"a0":2.9,"a1":3.3,"t0":32.4,"t1":32.4},{"a0":2.9,"a1":3.3,"t0":32.8,"t1":32.8},{"a0":2.9,"a1":3.3,"t0":33.2,"t1":33.2},{"a0":2.9,"a1":3.3,"t0":33.6,"t1":33.6},{"a0":2.9,"a1":3.3,"t0":34.02,"t1":33.98},{"a0":2.9,"a1":3.3,"t0":34.4,"t1":34.4},{"a0":2.9,"a1":3.3,"t0":34.8,"t1":34.8},{"a0":2.9,"a1":3.3,"t0":35.2,"t1":35.2},{"a0":2.9,"a1":3.3,"t0":35.6,"t1":35.6},{"a0":2.9,"a1":3.3,"t0":36,"t1":36},{"a0":2.9,"a1":3.3,"t0":36.4,"t1":36.4},{"a0":2.9,"a1":3.3,"t0":36.8,"t1":36.8},{"a0":2.9,"a1":3.3,"t0":37.2,"t1":37.2},{"a0":2.9,"a1":3.3,"t0":37.6,"t1":37.6},{"a0":2.9,"a1":3.3,"t0":38,"t1":38}
]},
"mark":{"type":"rule","color":"black","strokeWidth":5.5,"clip":true},
"encoding":{"x":{"field":"a0","type":"quantitative","title":"alpha"},"x2":{"field":"a1"},"y":{"field":"t0","type":"quantitative","title":"T_IR [K]"},"y2":{"field":"t1"}}
},
{
"data":{"name":"arrows"},
"transform":[{"filter":"datum.t > 34.2"}],
"mark":{"type":"point","shape":"triangle-left","filled":true,"color":"black","opacity":1,"size":220,"strokeWidth":0,"clip":true},
"encoding":{"x":{"field":"a","type":"quantitative","title":"alpha"},"y":{"field":"t","type":"quantitative","title":"T_IR [K]"}}
},
{
"data":{"name":"arrows"},
"transform":[{"filter":"datum.t <= 34.2"}],
"mark":{"type":"point","shape":"triangle-right","filled":true,"color":"black","opacity":1,"size":220,"strokeWidth":0,"clip":true},
"encoding":{"x":{"field":"a","type":"quantitative","title":"alpha"},"y":{"field":"t","type":"quantitative","title":"T_IR [K]"}}
},
{
"data":{"values":[
{"g":"16","lev":0.16,"i":0,"a":3.128,"t":33.03},{"g":"16","lev":0.16,"i":1,"a":3.15,"t":33.1},{"g":"16","lev":0.16,"i":2,"a":3.17,"t":33.23},{"g":"16","lev":0.16,"i":3,"a":3.188,"t":33.5},{"g":"16","lev":0.16,"i":4,"a":3.196,"t":33.75},{"g":"16","lev":0.16,"i":5,"a":3.198,"t":34},{"g":"16","lev":0.16,"i":6,"a":3.183,"t":34.4},{"g":"16","lev":0.16,"i":7,"a":3.166,"t":34.6},{"g":"16","lev":0.16,"i":8,"a":3.142,"t":34.8},{"g":"16","lev":0.16,"i":9,"a":3.118,"t":34.93},{"g":"16","lev":0.16,"i":10,"a":3.095,"t":34.98},{"g":"16","lev":0.16,"i":11,"a":3.07,"t":34.97},{"g":"16","lev":0.16,"i":12,"a":3.05,"t":34.9},{"g":"16","lev":0.16,"i":13,"a":3.03,"t":34.77},{"g":"16","lev":0.16,"i":14,"a":3.012,"t":34.5},{"g":"16","lev":0.16,"i":15,"a":3.004,"t":34.25},{"g":"16","lev":0.16,"i":16,"a":3.002,"t":34},{"g":"16","lev":0.16,"i":17,"a":3.017,"t":33.6},{"g":"16","lev":0.16,"i":18,"a":3.034,"t":33.4},{"g":"16","lev":0.16,"i":19,"a":3.058,"t":33.2},{"g":"16","lev":0.16,"i":20,"a":3.082,"t":33.07},{"g":"16","lev":0.16,"i":21,"a":3.098,"t":33.025},
{"g":"32","lev":0.32,"i":0,"a":3.125,"t":35.79},{"g":"32","lev":0.32,"i":1,"a":3.1,"t":35.85},{"g":"32","lev":0.32,"i":2,"a":3.07,"t":35.84},{"g":"32","lev":0.32,"i":3,"a":3.038,"t":35.79},{"g":"32","lev":0.32,"i":4,"a":3.002,"t":35.6},{"g":"32","lev":0.32,"i":5,"a":2.97,"t":35.21},{"g":"32","lev":0.32,"i":6,"a":2.955,"t":34.82},{"g":"32","lev":0.32,"i":7,"a":2.95,"t":34.45},{"g":"32","lev":0.32,"i":8,"a":2.948,"t":34},{"g":"32","lev":0.32,"i":9,"a":2.953,"t":33.6},{"g":"32","lev":0.32,"i":10,"a":2.969,"t":33.2},{"g":"32","lev":0.32,"i":11,"a":2.991,"t":32.79},{"g":"32","lev":0.32,"i":12,"a":3.015,"t":32.55},{"g":"32","lev":0.32,"i":13,"a":3.036,"t":32.4},{"g":"32","lev":0.32,"i":14,"a":3.046,"t":32.34},{"g":"32","lev":0.32,"i":15,"a":3.075,"t":32.21},{"g":"32","lev":0.32,"i":16,"a":3.1,"t":32.15},{"g":"32","lev":0.32,"i":17,"a":3.13,"t":32.16},{"g":"32","lev":0.32,"i":18,"a":3.162,"t":32.21},{"g":"32","lev":0.32,"i":19,"a":3.198,"t":32.4},{"g":"32","lev":0.32,"i":20,"a":3.23,"t":32.79},{"g":"32","lev":0.32,"i":21,"a":3.245,"t":33.18},{"g":"32","lev":0.32,"i":22,"a":3.25,"t":33.55},{"g":"32","lev":0.32,"i":23,"a":3.252,"t":34},{"g":"32","lev":0.32,"i":24,"a":3.247,"t":34.4},{"g":"32","lev":0.32,"i":25,"a":3.231,"t":34.8},{"g":"32","lev":0.32,"i":26,"a":3.209,"t":35.21},{"g":"32","lev":0.32,"i":27,"a":3.185,"t":35.45},{"g":"32","lev":0.32,"i":28,"a":3.164,"t":35.6},{"g":"32","lev":0.32,"i":29,"a":3.154,"t":35.66},
{"g":"48","lev":0.48,"i":0,"a":3.027,"t":31.64},{"g":"48","lev":0.48,"i":1,"a":3.065,"t":31.48},{"g":"48","lev":0.48,"i":2,"a":3.1,"t":31.4},{"g":"48","lev":0.48,"i":3,"a":3.15,"t":31.41},{"g":"48","lev":0.48,"i":4,"a":3.198,"t":31.6},{"g":"48","lev":0.48,"i":5,"a":3.239,"t":31.99},{"g":"48","lev":0.48,"i":6,"a":3.263,"t":32.39},{"g":"48","lev":0.48,"i":7,"a":3.28,"t":32.8},{"g":"48","lev":0.48,"i":8,"a":3.29,"t":33.23},{"g":"48","lev":0.48,"i":9,"a":3.293,"t":33.7},{"g":"48","lev":0.48,"i":10,"a":3.292,"t":34},{"g":"48","lev":0.48,"i":11,"a":3.286,"t":34.4},{"g":"48","lev":0.48,"i":12,"a":3.278,"t":34.8},{"g":"48","lev":0.48,"i":13,"a":3.266,"t":35.21},{"g":"48","lev":0.48,"i":14,"a":3.25,"t":35.58},{"g":"48","lev":0.48,"i":15,"a":3.224,"t":36.02},{"g":"48","lev":0.48,"i":16,"a":3.2,"t":36.22},{"g":"48","lev":0.48,"i":17,"a":3.173,"t":36.36},{"g":"48","lev":0.48,"i":18,"a":3.135,"t":36.52},{"g":"48","lev":0.48,"i":19,"a":3.1,"t":36.6},{"g":"48","lev":0.48,"i":20,"a":3.05,"t":36.59},{"g":"48","lev":0.48,"i":21,"a":3.002,"t":36.4},{"g":"48","lev":0.48,"i":22,"a":2.961,"t":36.01},{"g":"48","lev":0.48,"i":23,"a":2.937,"t":35.61},{"g":"48","lev":0.48,"i":24,"a":2.92,"t":35.2},{"g":"48","lev":0.48,"i":25,"a":2.91,"t":34.77},{"g":"48","lev":0.48,"i":26,"a":2.907,"t":34.3},{"g":"48","lev":0.48,"i":27,"a":2.908,"t":34},{"g":"48","lev":0.48,"i":28,"a":2.914,"t":33.6},{"g":"48","lev":0.48,"i":29,"a":2.922,"t":33.2},{"g":"48","lev":0.48,"i":30,"a":2.934,"t":32.79},{"g":"48","lev":0.48,"i":31,"a":2.95,"t":32.42},{"g":"48","lev":0.48,"i":32,"a":2.976,"t":31.98},{"g":"48","lev":0.48,"i":33,"a":3,"t":31.78},
{"g":"64a","lev":0.64,"i":0,"a":3.3,"t":35.4},{"g":"64a","lev":0.64,"i":1,"a":3.286,"t":35.7},{"g":"64a","lev":0.64,"i":2,"a":3.272,"t":36},{"g":"64a","lev":0.64,"i":3,"a":3.245,"t":36.4},{"g":"64a","lev":0.64,"i":4,"a":3.204,"t":36.81},{"g":"64a","lev":0.64,"i":5,"a":3.161,"t":37.07},{"g":"64a","lev":0.64,"i":6,"a":3.12,"t":37.22},{"g":"64a","lev":0.64,"i":7,"a":3.08,"t":37.26},
{"g":"64b","lev":0.64,"i":0,"a":3.052,"t":37.26},{"g":"64b","lev":0.64,"i":1,"a":3.01,"t":37.1},{"g":"64b","lev":0.64,"i":2,"a":2.97,"t":36.85},{"g":"64b","lev":0.64,"i":3,"a":2.944,"t":36.59},{"g":"64b","lev":0.64,"i":4,"a":2.921,"t":36.19},{"g":"64b","lev":0.64,"i":5,"a":2.9,"t":35.77},
{"g":"64c","lev":0.64,"i":0,"a":2.9,"t":32.6},{"g":"64c","lev":0.64,"i":1,"a":2.914,"t":32.3},{"g":"64c","lev":0.64,"i":2,"a":2.928,"t":32},{"g":"64c","lev":0.64,"i":3,"a":2.955,"t":31.6},{"g":"64c","lev":0.64,"i":4,"a":2.996,"t":31.19},{"g":"64c","lev":0.64,"i":5,"a":3.039,"t":30.93},{"g":"64c","lev":0.64,"i":6,"a":3.08,"t":30.78},{"g":"64c","lev":0.64,"i":7,"a":3.12,"t":30.74},
{"g":"64d","lev":0.64,"i":0,"a":3.148,"t":30.74},{"g":"64d","lev":0.64,"i":1,"a":3.19,"t":30.9},{"g":"64d","lev":0.64,"i":2,"a":3.23,"t":31.15},{"g":"64d","lev":0.64,"i":3,"a":3.256,"t":31.41},{"g":"64d","lev":0.64,"i":4,"a":3.279,"t":31.81},{"g":"64d","lev":0.64,"i":5,"a":3.3,"t":32.23},
{"g":"80a","lev":0.8,"i":0,"a":3.3,"t":36.26},{"g":"80a","lev":0.8,"i":1,"a":3.285,"t":36.55},{"g":"80a","lev":0.8,"i":2,"a":3.268,"t":36.8},{"g":"80a","lev":0.8,"i":3,"a":3.23,"t":37.22},
{"g":"80b","lev":0.8,"i":0,"a":3.203,"t":37.45},{"g":"80b","lev":0.8,"i":1,"a":3.16,"t":37.68},{"g":"80b","lev":0.8,"i":2,"a":3.125,"t":37.8},{"g":"80b","lev":0.8,"i":3,"a":3.09,"t":37.86},{"g":"80b","lev":0.8,"i":4,"a":3.062,"t":37.84},{"g":"80b","lev":0.8,"i":5,"a":3.01,"t":37.69},{"g":"80b","lev":0.8,"i":6,"a":2.97,"t":37.47},{"g":"80b","lev":0.8,"i":7,"a":2.935,"t":37.17},{"g":"80b","lev":0.8,"i":8,"a":2.9,"t":36.6},
{"g":"80c","lev":0.8,"i":0,"a":2.9,"t":31.74},{"g":"80c","lev":0.8,"i":1,"a":2.915,"t":31.45},{"g":"80c","lev":0.8,"i":2,"a":2.932,"t":31.2},{"g":"80c","lev":0.8,"i":3,"a":2.97,"t":30.78},
{"g":"80d","lev":0.8,"i":0,"a":2.997,"t":30.55},{"g":"80d","lev":0.8,"i":1,"a":3.04,"t":30.32},{"g":"80d","lev":0.8,"i":2,"a":3.075,"t":30.2},{"g":"80d","lev":0.8,"i":3,"a":3.11,"t":30.14},{"g":"80d","lev":0.8,"i":4,"a":3.138,"t":30.16},{"g":"80d","lev":0.8,"i":5,"a":3.19,"t":30.31},{"g":"80d","lev":0.8,"i":6,"a":3.23,"t":30.53},{"g":"80d","lev":0.8,"i":7,"a":3.265,"t":30.83},{"g":"80d","lev":0.8,"i":8,"a":3.3,"t":31.4},
{"g":"96a","lev":0.96,"i":0,"a":2.9,"t":37.26},{"g":"96a","lev":0.96,"i":1,"a":2.91,"t":37.39},{"g":"96a","lev":0.96,"i":2,"a":2.92,"t":37.51},
{"g":"96b","lev":0.96,"i":0,"a":2.947,"t":37.81},{"g":"96b","lev":0.96,"i":1,"a":2.958,"t":37.91},{"g":"96b","lev":0.96,"i":2,"a":2.969,"t":38},
{"g":"96c","lev":0.96,"i":0,"a":3.203,"t":38},{"g":"96c","lev":0.96,"i":1,"a":3.221,"t":37.85},{"g":"96c","lev":0.96,"i":2,"a":3.239,"t":37.7},
{"g":"96d","lev":0.96,"i":0,"a":3.266,"t":37.42},{"g":"96d","lev":0.96,"i":1,"a":3.285,"t":37.2},{"g":"96d","lev":0.96,"i":2,"a":3.3,"t":36.96},
{"g":"96e","lev":0.96,"i":0,"a":3.3,"t":30.74},{"g":"96e","lev":0.96,"i":1,"a":3.29,"t":30.61},{"g":"96e","lev":0.96,"i":2,"a":3.28,"t":30.49},
{"g":"96f","lev":0.96,"i":0,"a":3.253,"t":30.19},{"g":"96f","lev":0.96,"i":1,"a":3.242,"t":30.09},{"g":"96f","lev":0.96,"i":2,"a":3.231,"t":30},
{"g":"96g","lev":0.96,"i":0,"a":2.997,"t":30},{"g":"96g","lev":0.96,"i":1,"a":2.979,"t":30.15},{"g":"96g","lev":0.96,"i":2,"a":2.961,"t":30.3},
{"g":"96h","lev":0.96,"i":0,"a":2.934,"t":30.58},{"g":"96h","lev":0.96,"i":1,"a":2.915,"t":30.8},{"g":"96h","lev":0.96,"i":2,"a":2.9,"t":31.04}
]},
"mark":{"type":"line","strokeWidth":4,"interpolate":"catmull-rom","clip":true},
"encoding":{
"x":{"field":"a","type":"quantitative","title":"alpha"},
"y":{"field":"t","type":"quantitative","title":"T_IR [K]"},
"detail":{"field":"g","type":"nominal"},
"order":{"field":"i","type":"quantitative"},
"color":{"field":"lev","type":"quantitative","scale":{"scheme":"viridis","domain":[0,0.96]},"legend":null}
}
},
{
"data":{"name":"labels"},
"transform":[{"filter":"datum.lev == 0.16 || datum.lev == 0.64"}],
"mark":{"type":"text","angle":0,"fontSize":32,"font":"DejaVu Serif","align":"center","baseline":"middle"},
"encoding":{"x":{"field":"a","type":"quantitative","title":"alpha"},"y":{"field":"t","type":"quantitative","title":"T_IR [K]"},"text":{"field":"txt"},"color":{"field":"lev","type":"quantitative","scale":{"scheme":"viridis","domain":[0,0.96]},"legend":null}}
},
{
"data":{"name":"labels"},
"transform":[{"filter":"datum.lev == 0.32"}],
"mark":{"type":"text","angle":12,"fontSize":32,"font":"DejaVu Serif","align":"center","baseline":"middle"},
"encoding":{"x":{"field":"a","type":"quantitative","title":"alpha"},"y":{"field":"t","type":"quantitative","title":"T_IR [K]"},"text":{"field":"txt"},"color":{"field":"lev","type":"quantitative","scale":{"scheme":"viridis","domain":[0,0.96]},"legend":null}}
},
{
"data":{"name":"labels"},
"transform":[{"filter":"datum.lev == 0.48"}],
"mark":{"type":"text","angle":17,"fontSize":32,"font":"DejaVu Serif","align":"center","baseline":"middle"},
"encoding":{"x":{"field":"a","type":"quantitative","title":"alpha"},"y":{"field":"t","type":"quantitative","title":"T_IR [K]"},"text":{"field":"txt"},"color":{"field":"lev","type":"quantitative","scale":{"scheme":"viridis","domain":[0,0.96]},"legend":null}}
},
{
"data":{"name":"labels"},
"transform":[{"filter":"datum.lev == 0.8"}],
"mark":{"type":"text","angle":22,"fontSize":32,"font":"DejaVu Serif","align":"center","baseline":"middle"},
"encoding":{"x":{"field":"a","type":"quantitative","title":"alpha"},"y":{"field":"t","type":"quantitative","title":"T_IR [K]"},"text":{"field":"txt"},"color":{"field":"lev","type":"quantitative","scale":{"scheme":"viridis","domain":[0,0.96]},"legend":null}}
},
{
"data":{"name":"labels"},
"transform":[{"filter":"datum.lev == 0.96 && (datum.pos == 'TL' || datum.pos == 'BR')"}],
"mark":{"type":"text","angle":-28,"fontSize":32,"font":"DejaVu Serif","align":"center","baseline":"middle"},
"encoding":{"x":{"field":"a","type":"quantitative","title":"alpha"},"y":{"field":"t","type":"quantitative","title":"T_IR [K]"},"text":{"field":"txt"},"color":{"field":"lev","type":"quantitative","scale":{"scheme":"viridis","domain":[0,0.96]},"legend":null}}
},
{
"data":{"name":"labels"},
"transform":[{"filter":"datum.lev == 0.96 && (datum.pos == 'TR' || datum.pos == 'BL')"}],
"mark":{"type":"text","angle":26,"fontSize":32,"font":"DejaVu Serif","align":"center","baseline":"middle"},
"encoding":{"x":{"field":"a","type":"quantitative","title":"alpha"},"y":{"field":"t","type":"quantitative","title":"T_IR [K]"},"text":{"field":"txt"},"color":{"field":"lev","type":"quantitative","scale":{"scheme":"viridis","domain":[0,0.96]},"legend":null}}
},
{
"data":{"name":"fid"},
"mark":{"type":"circle","size":600,"color":"#1f77b4","opacity":1},
"encoding":{"x":{"field":"a","type":"quantitative","title":"alpha"},"y":{"field":"t","type":"quantitative","title":"T_IR [K]"}}
},
{
"data":{"name":"fid"},
"mark":{"type":"text","dx":21,"dy":-22,"align":"left","baseline":"alphabetic","fontSize":40,"font":"DejaVu Serif","color":"black"},
"encoding":{"x":{"field":"a","type":"quantitative","title":"alpha"},"y":{"field":"t","type":"quantitative","title":"T_IR [K]"},"text":{"field":"name"}}
}
]
},
{
"width":73,"height":1489,
"data":{"values":[{"lo":0,"hi":1.25}]},
"mark":{"type":"rect","stroke":"black","strokeWidth":3,"fill":{"gradient":"linear","x1":0,"y1":1,"x2":0,"y2":0,"stops":[
{"offset":0,"color":"#440154"},{"offset":0.05,"color":"#471365"},{"offset":0.1,"color":"#482475"},{"offset":0.15,"color":"#463480"},{"offset":0.2,"color":"#414487"},{"offset":0.25,"color":"#3b528b"},{"offset":0.3,"color":"#355f8d"},{"offset":0.35,"color":"#2f6c8e"},{"offset":0.4,"color":"#2a788e"},{"offset":0.45,"color":"#25848e"},{"offset":0.5,"color":"#21918c"},{"offset":0.55,"color":"#1e9c89"},{"offset":0.6,"color":"#22a884"},{"offset":0.65,"color":"#2fb47c"},{"offset":0.7,"color":"#44bf70"},{"offset":0.75,"color":"#5ec962"},{"offset":0.8,"color":"#7ad151"},{"offset":0.85,"color":"#9bd93c"},{"offset":0.9,"color":"#bddf26"},{"offset":0.95,"color":"#dfe318"},{"offset":1,"color":"#fde725"}]}},
"encoding":{
"x":{"value":0},
"x2":{"value":"width"},
"y":{"field":"lo","type":"quantitative","scale":{"domain":[0,1.25],"nice":false,"zero":false},"axis":{"orient":"right","values":[0,0.2,0.4,0.6,0.8,1,1.2],"format":".1f","title":"composite sensitivity score S (lower is better)","titleAngle":270,"titleBaseline":"top","labelPadding":11,"titlePadding":17,"domain":false}},
"y2":{"field":"hi"}
}
}
],
"config":{
"font":"DejaVu Serif",
"view":{"stroke":"black","strokeWidth":5},
"axis":{"labelFont":"DejaVu Serif","titleFont":"DejaVu Serif","labelFontSize":40,"titleFontSize":40,"titleFontWeight":"normal","labelColor":"black","titleColor":"black","tickColor":"black","domainColor":"black","tickSize":14,"tickWidth":3.2,"domainWidth":3.2,"grid":false,"zindex":1,"labelFlush":false,"labelOverlap":false},
"title":{"font":"DejaVu Serif","fontSize":49,"fontWeight":"normal","color":"black"}
}
}
